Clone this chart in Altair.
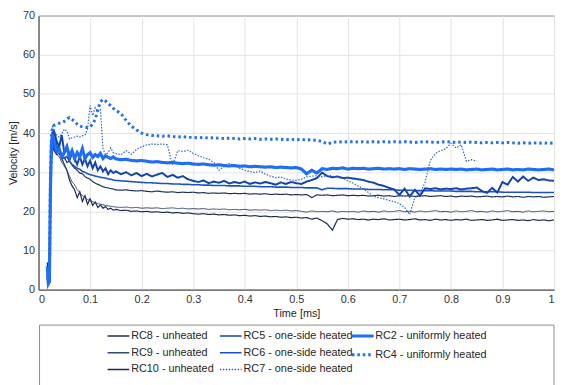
import altair as alt
import pandas as pd

# time grid [ms]
T = [0.017, 0.019, 0.021, 0.023, 0.025, 0.027,
     0.030, 0.035, 0.040, 0.045, 0.050, 0.055, 0.060, 0.065, 0.070, 0.075,
     0.080, 0.085, 0.090, 0.095, 0.100, 0.105, 0.110, 0.115, 0.120, 0.125,
     0.130, 0.135, 0.140, 0.145, 0.150,
     0.16, 0.17, 0.18, 0.19, 0.20, 0.21, 0.22, 0.23, 0.24, 0.25, 0.26, 0.27, 0.28, 0.29, 0.30,
     0.31, 0.32, 0.33, 0.34, 0.35, 0.36, 0.37, 0.38, 0.39, 0.40,
     0.41, 0.42, 0.43, 0.44, 0.45, 0.46, 0.47, 0.48, 0.49, 0.50,
     0.51, 0.52, 0.53, 0.54, 0.55, 0.56, 0.57, 0.58, 0.59, 0.60,
     0.61, 0.62, 0.63, 0.64, 0.65, 0.66, 0.67, 0.68, 0.69, 0.70,
     0.71, 0.72, 0.73, 0.74, 0.75, 0.76, 0.77, 0.78, 0.79, 0.80,
     0.81, 0.82, 0.83, 0.84, 0.85, 0.86, 0.87, 0.88, 0.89, 0.90,
     0.91, 0.92, 0.93, 0.94, 0.95, 0.96, 0.97, 0.98, 0.99, 1.00]

RC2 = [6, 1.5, 2, 25, 37, 39.5,
       38, 35.5, 36, 34, 35, 36.5, 34, 35.5, 33.5, 35, 34, 36, 33.5, 34.5, 35, 33.8, 34.5, 34, 34.8, 33.5,
       34.2, 33.8, 33.5, 33.9, 33.4,
       33.2, 33.3, 33.0, 32.9, 33.0, 32.8, 32.6, 32.7, 32.5, 32.4, 32.5, 32.3, 32.2, 32.3, 32.1,
       32.0, 32.1, 31.9, 31.8, 31.9, 31.7, 31.6, 31.7, 31.5, 31.6,
       31.4, 31.5, 31.4, 31.3, 31.4, 31.2, 31.3, 31.2, 31.1, 31.2,
       30.8, 29.6, 30.5, 29.8, 30.9, 30.7, 31.0, 30.9, 31.1, 30.8,
       31.0, 30.9, 31.0, 30.8, 30.9, 31.0, 30.8, 30.9, 30.8, 30.9,
       30.7, 30.9, 30.8, 30.7, 30.8, 30.9, 30.7, 30.8, 30.7, 30.8,
       30.7, 30.8, 30.6, 30.7, 30.8, 30.6, 30.7, 30.8, 30.6, 30.7,
       30.8, 30.6, 30.7, 30.6, 30.8, 30.7, 30.6, 30.7, 30.8, 30.6]

RC4 = [5, 2, 3, 28, 39, 41.5,
       42.0, 42.2, 42.5, 42.6, 43.0, 43.6, 44.0, 43.5, 43.0, 42.3, 41.8, 41.6, 41.5, 41.4, 41.6, 42.3, 43.5, 46.0, 48.0, 48.6,
       48.2, 47.5, 47.0, 46.3, 45.8,
       45.0, 43.2, 41.8, 40.8, 40.0, 39.6, 39.4, 39.3, 39.2, 39.3, 39.1, 39.0, 39.1, 38.9, 38.9,
       38.8, 38.9, 38.7, 38.8, 38.7, 38.6, 38.7, 38.6, 38.5, 38.6,
       38.5, 38.6, 38.4, 38.5, 38.4, 38.5, 38.4, 38.3, 38.4, 38.3,
       38.4, 38.2, 38.3, 38.1, 37.9, 37.2, 37.6, 37.8, 37.7, 37.8,
       37.8, 37.7, 37.8, 37.7, 37.8, 37.7, 37.8, 37.7, 37.8, 37.7,
       37.8, 37.7, 37.6, 37.7, 37.8, 37.7, 37.6, 37.7, 37.8, 37.7,
       37.6, 37.7, 37.6, 37.7, 37.6, 37.5, 37.6, 37.5, 37.6, 37.5,
       37.6, 37.5, 37.4, 37.5, 37.4, 37.5, 37.4, 37.5, 37.4, 37.5]

RC7 = [4, 2, 3, 30, 39, 42,
       40.5, 39.5, 39.0, 39.8, 41.0, 40.5, 38.5, 38.8, 39.0, 39.2, 39.0, 39.3, 39.5, 41.0, 47.0, 44.5, 46.5, 45.5, 46.0, 36.0,
       34.5, 35.0, 36.2, 35.0, 34.8,
       34.5, 35.5, 34.6, 35.8, 36.5, 37.0, 37.2, 37.1, 37.2, 37.0, 31.8, 35.5, 35.3, 35.6, 34.8,
       34.2, 33.7, 33.3, 32.5, 30.5, 31.5, 32.2, 31.8, 31.0, 30.5,
       30.2, 29.9, 30.3, 29.5, 29.0, 28.6, 28.8, 28.3, 28.0, 27.9,
       28.2, 28.8, 29.0, 29.1, 28.8, 29.2, 29.0, 28.7, 28.5, 27.8,
       27.2, 26.5, 25.8, 24.8, 23.8, 23.5, 23.2, 22.8, 22.5, 22.0,
       21.0, 19.2, 23.5, 24.5, 27.5, 33.0, 34.8, 35.5, 36.0, 37.4,
       36.2, 37.0, 32.8, 33.2, 32.8]

RC5 = [3, 1.5, 2, 27, 36, 40,
       40.5, 38.0, 36.5, 39.5, 35.0, 36.5, 33.0, 35.0, 33.5, 32.0, 34.0, 32.0, 33.5, 31.5, 33.0, 31.0, 32.5, 30.5, 31.5, 30.2,
       31.0, 29.5, 30.5, 29.8, 30.2,
       29.5, 30.0, 29.2, 29.8, 29.0, 29.6, 28.9, 29.4, 29.8, 28.8, 29.3, 28.6, 29.0, 28.2, 27.8,
       27.5, 27.9, 27.2, 27.6, 27.3, 27.8, 27.1, 27.5, 27.2, 27.6,
       27.0, 27.4, 27.1, 27.5, 27.2, 26.8, 27.4, 27.0, 27.5, 27.2,
       27.0, 27.6, 28.0, 28.5, 29.9, 29.0, 28.7, 28.9, 28.5, 28.6,
       28.4, 28.2, 28.0, 27.6, 27.3, 26.8, 26.5, 26.0, 25.6, 24.2,
       25.8, 23.8, 25.5, 24.0, 25.9, 25.7, 25.9, 25.6, 25.8, 25.7,
       25.9, 25.6, 25.8, 25.9, 26.1, 25.2, 24.7, 26.0, 24.8, 27.5,
       26.8, 28.8, 27.6, 28.9, 27.8, 28.6, 28.0, 28.2, 27.9, 27.8]

RC6 = [2, 1.5, 2.5, 26, 35, 37.5,
       36.5, 35.0, 35.5, 34.0, 33.5, 34.0, 32.8, 32.0, 31.5, 31.0, 30.8, 30.2, 30.0, 29.6, 29.4, 29.2, 29.0, 28.9, 28.7, 28.6,
       28.5, 28.3, 28.2, 28.0, 27.9,
       27.8, 27.7, 27.6, 27.5, 27.4, 27.3, 27.3, 27.2, 27.1, 27.1, 27.0, 27.0, 26.9, 26.9, 26.8,
       26.8, 26.7, 26.7, 26.6, 26.6, 26.6, 26.5, 26.5, 26.5, 26.4,
       26.4, 26.4, 26.3, 26.3, 26.3, 26.2, 26.2, 26.2, 26.1, 26.1,
       26.1, 26.0, 26.0, 26.0, 25.5, 25.9, 25.9, 25.8, 25.8, 25.8,
       25.7, 25.7, 25.7, 25.6, 25.6, 25.6, 25.5, 25.5, 25.5, 25.4,
       25.4, 25.4, 25.3, 25.3, 25.3, 25.3, 25.2, 25.2, 25.2, 25.2,
       25.1, 25.1, 25.1, 25.1, 25.0, 25.0, 25.0, 25.0, 25.0, 24.9,
       24.9, 24.9, 24.9, 24.9, 24.9, 24.8, 24.8, 24.8, 24.8, 24.8]

RC8 = [7, 1.2, 2, 24, 33, 36.5,
       35.5, 34.5, 34.8, 33.5, 33.8, 32.5, 32.8, 31.8, 31.0, 30.5, 29.8, 29.6, 28.9, 28.5, 28.2, 27.6, 27.2, 26.9, 26.6, 26.3,
       26.1, 26.0, 25.8, 25.7, 25.5,
       25.4, 25.5, 25.3, 25.2, 25.3, 25.1, 25.0, 25.2, 25.0, 24.9, 25.0, 24.8, 24.9, 24.8, 24.9,
       24.7, 24.8, 24.6, 24.7, 24.6, 24.7, 24.5, 24.6, 24.5, 24.6,
       24.4, 24.5, 24.4, 24.5, 24.3, 24.4, 24.3, 24.4, 24.2, 24.3,
       24.2, 24.3, 23.5, 24.2, 24.1, 24.2, 24.0, 24.1, 24.2, 24.0,
       24.1, 24.0, 24.1, 23.9, 24.0, 24.1, 23.9, 24.0, 23.8, 24.0,
       23.9, 24.0, 23.8, 23.9, 24.0, 23.8, 23.9, 24.0, 23.8, 23.9,
       23.7, 23.9, 23.8, 23.9, 23.7, 23.8, 23.9, 23.7, 23.8, 23.7,
       23.9, 23.7, 23.8, 23.6, 23.8, 23.7, 23.8, 23.6, 23.7, 23.8]

RC9 = [5, 1.5, 2.5, 25, 34, 37,
       36.0, 34.5, 34.0, 32.5, 31.5, 30.5, 29.0, 27.5, 26.8, 25.5, 24.8, 24.0, 23.6, 23.0, 22.8, 22.5, 22.2, 22.0, 21.8, 21.7,
       21.5, 21.4, 21.3, 21.2, 21.1,
       21.0, 21.1, 20.9, 21.0, 20.8, 20.9, 20.8, 20.9, 20.7, 20.8, 20.9, 20.7, 20.8, 20.6, 20.7,
       20.6, 20.7, 20.5, 20.6, 20.5, 20.6, 20.4, 20.5, 20.4, 20.5,
       20.3, 20.4, 20.3, 20.4, 20.2, 20.3, 20.2, 20.3, 20.1, 20.2,
       20.0, 19.8, 20.1, 19.9, 20.0, 19.9, 20.1, 19.8, 20.0, 19.9,
       20.0, 19.8, 20.1, 19.9, 20.0, 19.8, 20.1, 19.9, 20.0, 20.2,
       19.9, 20.0, 19.8, 20.1, 19.9, 20.0, 20.2, 19.9, 20.0, 19.8,
       20.1, 19.9, 20.0, 20.2, 19.9, 20.0, 19.8, 20.1, 19.9, 20.0,
       20.2, 19.9, 20.0, 19.8, 20.1, 19.9, 20.0, 20.1, 19.9, 20.0]

RC10 = [4, 1.5, 2, 26, 36, 39,
        40.5, 37.0, 35.0, 33.5, 32.0, 30.5, 28.0, 26.5, 25.5, 23.5, 25.0, 22.5, 24.0, 21.8, 23.2, 21.5, 22.4, 21.0, 21.6, 20.8,
        21.2, 20.5, 20.8, 20.3, 20.5,
        20.2, 20.3, 20.0, 20.1, 19.9, 20.0, 19.8, 19.9, 19.7, 19.8, 19.6, 19.7, 19.5, 19.6, 19.4,
        19.3, 19.4, 19.2, 19.3, 19.1, 19.2, 19.0, 19.1, 18.9, 19.0,
        18.8, 18.9, 18.7, 18.8, 18.6, 18.7, 18.5, 18.6, 18.4, 18.5,
        18.3, 18.4, 18.0, 18.3, 17.6, 16.8, 15.2, 17.9, 18.2, 18.0,
        18.1, 17.9, 18.0, 17.8, 18.0, 17.9, 18.1, 17.8, 17.9, 18.0,
        17.8, 17.9, 18.1, 17.8, 17.9, 17.7, 18.0, 17.8, 17.9, 17.7,
        17.9, 17.8, 18.0, 17.7, 17.8, 17.9, 17.7, 17.8, 18.0, 17.7,
        17.8, 17.9, 17.7, 17.8, 17.6, 17.9, 17.7, 17.8, 17.6, 17.8]

# group A legend (column-major, 2 columns x 3 rows)
ORDER_A = ["RC8 - unheated", "RC9 - unheated", "RC10 - unheated",
           "RC5 - one-side heated", "RC6 - one-side heated", "RC7 - one-side heated"]
COLORS_A = ["#1e2f5a", "#34476f", "#1a2950", "#1244ad", "#1b52bd", "#2a62c8"]
DASHES_A = [[1, 0], [1, 0], [1, 0], [1, 0], [1, 0], [1.5, 1.5]]
# group B legend
ORDER_B = ["RC2 - uniformly heated", "RC4 - uniformly heated"]
COLORS_B = ["#1f6ef5", "#1f6ef5"]
DASHES_B = [[1, 0], [2.5, 3]]

LINE_WIDTH = {"RC8 - unheated": 1.2, "RC9 - unheated": 1.0, "RC10 - unheated": 1.2,
              "RC5 - one-side heated": 2.0, "RC6 - one-side heated": 1.6,
              "RC7 - one-side heated": 1.2,
              "RC2 - uniformly heated": 3.2, "RC4 - uniformly heated": 3.0}

series_a = [("RC10 - unheated", RC10), ("RC9 - unheated", RC9), ("RC8 - unheated", RC8),
            ("RC6 - one-side heated", RC6), ("RC5 - one-side heated", RC5),
            ("RC7 - one-side heated", RC7)]
series_b = [("RC4 - uniformly heated", RC4), ("RC2 - uniformly heated", RC2)]


def frame(series):
    rows = []
    for name, vals in series:
        for t, v in zip(T, vals):
            rows.append({"series": name, "t": t, "v": v, "w": LINE_WIDTH[name]})
    return pd.DataFrame(rows)


W, H = 523, 278

x_enc = alt.X("t:Q", title="Time [ms]",
              scale=alt.Scale(domain=[0, 1], nice=False),
              axis=alt.Axis(values=[0, 0.1, 0.2, 0.3, 0.4, 0.5, 0.6, 0.7, 0.8, 0.9, 1],
                            labelExpr="datum.value == 0 ? '0' : datum.value == 1 ? '1' : format(datum.value, '.1f')",
                            labelPadding=4, titlePadding=3))
y_enc = alt.Y("v:Q", title="Velocity [m/s]",
              scale=alt.Scale(domain=[0, 70], nice=False),
              axis=alt.Axis(values=[0, 10, 20, 30, 40, 50, 60, 70],
                            labelPadding=4, titlePadding=4))

LEG = dict(orient="none", symbolType="stroke", symbolSize=484,
           labelFontSize=11, labelFont="Liberation Sans", labelColor="#262626",
           columnPadding=2, padding=0,
           gridAlign="each", title=None, labelLimit=300)

lines_a = alt.Chart(frame(series_a)).mark_line(clip=True).encode(
    x=x_enc, y=y_enc,
    color=alt.Color("series:N", scale=alt.Scale(domain=ORDER_A, range=COLORS_A),
                    legend=alt.Legend(legendX=69, legendY=313, columns=2,
                                      symbolStrokeWidth=1.6, labelOffset=1,
                                      rowPadding=-5.5, **LEG)),
    strokeDash=alt.StrokeDash("series:N", scale=alt.Scale(domain=ORDER_A, range=DASHES_A), title=None),
    strokeWidth=alt.StrokeWidth("w:Q", scale=None, legend=None),
)

lines_b = alt.Chart(frame(series_b)).mark_line(clip=True).encode(
    x=x_enc, y=y_enc,
    color=alt.Color("series:N", scale=alt.Scale(domain=ORDER_B, range=COLORS_B),
                    legend=alt.Legend(legendX=316.5, legendY=312.5, columns=1,
                                      symbolStrokeWidth=3, labelOffset=0,
                                      rowPadding=-6.5, **LEG)),
    strokeDash=alt.StrokeDash("series:N", scale=alt.Scale(domain=ORDER_B, range=DASHES_B), title=None),
    strokeWidth=alt.StrokeWidth("w:Q", scale=None, legend=None),
)

box = alt.Chart(pd.DataFrame({"k": [0]})).mark_rect(
    fill="white", stroke="#8c8c8c", strokeWidth=1
).encode(
    x=alt.value(1), x2=alt.value(523), y=alt.value(314), y2=alt.value(420)
)

chart = alt.layer(box, lines_a, lines_b).resolve_scale(
    color="independent", strokeDash="independent"
).resolve_legend(
    color="independent", strokeDash="independent"
).properties(
    width=W, height=H,
    autosize=alt.AutoSizeParams(type="none"),
    padding={"left": 31, "top": 5, "right": 1, "bottom": 94}
).configure(
    font="Liberation Sans"
).configure_view(
    stroke="#4d4d4d", strokeWidth=1
).configure_axis(
    labelFont="Liberation Sans", titleFont="Liberation Sans",
    labelFontSize=11, titleFontSize=11, titleFontWeight="normal",
    labelColor="#333333", titleColor="#262626",
    gridColor="#e4e4e4", gridWidth=1,
    domainColor="#4d4d4d", ticks=False
)

chart.save("out.html", embed_options={"renderer": "svg", "actions": False})
